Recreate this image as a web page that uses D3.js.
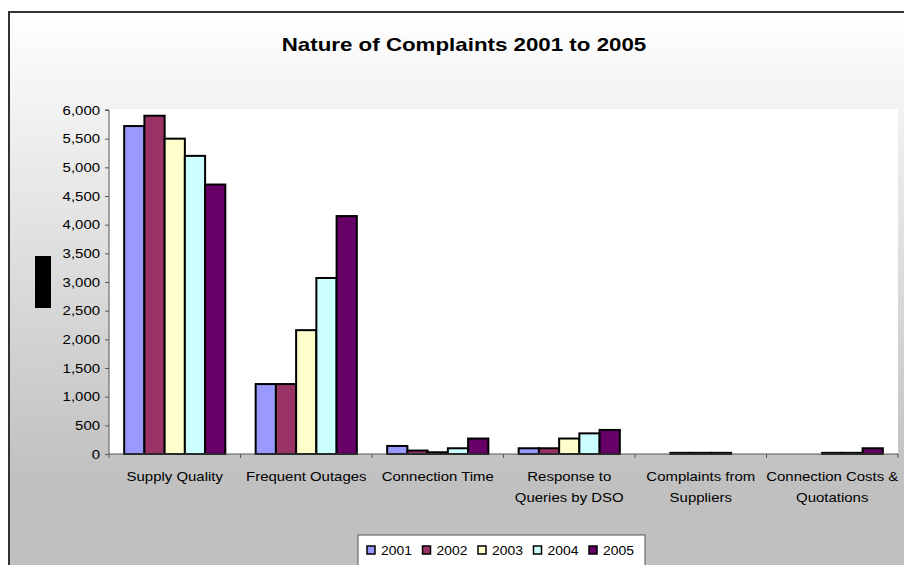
<!DOCTYPE html>
<html>
<head>
<meta charset="utf-8">
<script src="https://cdn.jsdelivr.net/npm/d3@7/dist/d3.min.js"></script>
<style>
  html, body { margin: 0; padding: 0; background: #ffffff; }
  svg { display: block; font-family: "Liberation Sans", Arial, sans-serif; }
</style>
</head>
<body>
<svg id="chart" width="904" height="565"></svg>
<script>
// Complaint categories (x axis, two lines where the label wraps)
const categories = [
  "Supply Quality",
  "Frequent Outages",
  "Connection Time",
  "Response to Queries by DSO",
  "Complaints from Suppliers",
  "Connection Costs & Quotations"
];
const categoryLines = [
  ["Supply Quality"],
  ["Frequent Outages"],
  ["Connection Time"],
  ["Response to", "Queries by DSO"],
  ["Complaints from", "Suppliers"],
  ["Connection Costs &", "Quotations"]
];

// Years (series)
const years = ["2001", "2002", "2003", "2004", "2005"];
const yearColors = ["#9999ff", "#993366", "#ffffcc", "#ccffff", "#660066"];

// Number of complaints per category, one array per year
const values2001 = [5720, 1220, 140, 100, 0, 0];
const values2002 = [5900, 1220, 60, 100, 20, 0];
const values2003 = [5500, 2160, 30, 270, 20, 20];
const values2004 = [5200, 3070, 100, 360, 20, 20];
const values2005 = [4700, 4150, 270, 420, 0, 100];
const seriesValues = [values2001, values2002, values2003, values2004, values2005];

// Y axis ticks
const yTicks = [0, 500, 1000, 1500, 2000, 2500, 3000, 3500, 4000, 4500, 5000, 5500, 6000];

// Text in this chart is drawn slightly wide
const wideLabel = 1.15;
const wideTitle = 1.24;
const wideLegend = 1.07;

const svg = d3.select("#chart");

// Chart background: white to grey gradient
const defs = svg.append("defs");
const grad = defs.append("linearGradient")
  .attr("id", "bg")
  .attr("gradientUnits", "userSpaceOnUse")
  .attr("x1", 0).attr("y1", 12).attr("x2", 0).attr("y2", 480);
grad.append("stop").attr("offset", "0%").attr("stop-color", "#ffffff");
grad.append("stop").attr("offset", "100%").attr("stop-color", "#c0c0c0");

svg.append("rect")
  .attr("x", 9).attr("y", 12).attr("width", 904).attr("height", 560)
  .attr("fill", "url(#bg)")
  .attr("stroke", "#333333").attr("stroke-width", 2);

const plot = { left: 109, right: 898, top: 110, bottom: 454 };

// Plot area
svg.append("rect")
  .attr("x", plot.left).attr("y", plot.top - 1)
  .attr("width", plot.right - plot.left).attr("height", plot.bottom - plot.top + 1)
  .attr("fill", "#ffffff");

const x0 = d3.scaleBand().domain(categories).range([plot.left, plot.right]).padding(0);
const x1 = d3.scaleBand().domain(years).range([0, x0.bandwidth()])
  .paddingInner(0).paddingOuter(0.75);
const y = d3.scaleLinear().domain([0, 6000]).range([plot.bottom, plot.top]);

// Bars
const groups = svg.append("g").selectAll("g")
  .data(categories)
  .join("g")
  .attr("transform", d => `translate(${x0(d)},0)`);

groups.selectAll("rect")
  .data((c, ci) => years.map((yr, si) => ({ yr, si, v: seriesValues[si][ci] })).filter(d => d.v > 0))
  .join("rect")
  .attr("x", d => x1(d.yr))
  .attr("y", d => y(d.v))
  .attr("width", x1.bandwidth())
  .attr("height", d => y(0) - y(d.v))
  .attr("fill", d => yearColors[d.si])
  .attr("stroke", "#000000")
  .attr("stroke-width", 2);

// Y axis
const yAxis = d3.axisLeft(y).tickValues(yTicks).tickFormat(d3.format(",")).tickSize(4).tickPadding(5);
const yg = svg.append("g").attr("transform", `translate(${plot.left},0)`).call(yAxis);
yg.select(".domain").attr("stroke", "#555555").attr("d", `M-4,${plot.top}H0V${plot.bottom}`);
yg.selectAll(".tick line").attr("stroke", "#555555");
yg.selectAll(".tick text")
  .attr("font-size", 13).attr("fill", "#000000")
  .attr("font-family", "'Liberation Sans', Arial, sans-serif")
  .attr("x", -9 / wideLabel)
  .attr("transform", `scale(${wideLabel},1)`);

// X axis line and category dividers
const xg = svg.append("g");
xg.append("line")
  .attr("x1", plot.left).attr("x2", plot.right)
  .attr("y1", plot.bottom).attr("y2", plot.bottom)
  .attr("stroke", "#555555").attr("stroke-width", 1);
const dividers = categories.map(c => x0(c)).concat([x0(categories[categories.length - 1]) + x0.bandwidth()]);
xg.selectAll("line.div")
  .data(dividers)
  .join("line")
  .attr("class", "div")
  .attr("x1", d => d).attr("x2", d => d)
  .attr("y1", plot.bottom).attr("y2", plot.bottom + 4)
  .attr("stroke", "#555555");

// Category labels
const labels = svg.append("g").selectAll("text")
  .data(categories)
  .join("text")
  .attr("transform", d => `translate(${x0(d) + x0.bandwidth() / 2},481) scale(${wideLabel},1)`)
  .attr("text-anchor", "middle")
  .attr("font-size", 13)
  .attr("fill", "#000000");
labels.each(function(d, i) {
  const t = d3.select(this);
  categoryLines[i].forEach((line, li) => {
    t.append("tspan")
      .attr("x", 0)
      .attr("dy", li === 0 ? 0 : 21)
      .text(line);
  });
});

// Title
svg.append("text")
  .attr("transform", `translate(464,51) scale(${wideTitle},1)`)
  .attr("text-anchor", "middle")
  .attr("font-size", 18).attr("font-weight", "bold")
  .attr("fill", "#000000")
  .text("Nature of Complaints 2001 to 2005");

// Vertical axis title block
svg.append("rect")
  .attr("x", 35).attr("y", 256).attr("width", 16).attr("height", 52)
  .attr("fill", "#000000");

// Legend
const legend = svg.append("g");
legend.append("rect")
  .attr("x", 358).attr("y", 535).attr("width", 287).attr("height", 40)
  .attr("fill", "#ffffff").attr("stroke", "#555555").attr("stroke-width", 1);
const items = legend.selectAll("g.item")
  .data(years)
  .join("g")
  .attr("class", "item")
  .attr("transform", (d, i) => `translate(${367 + i * 55.5},0)`);
items.append("rect")
  .attr("x", 0).attr("y", 546).attr("width", 8).attr("height", 8)
  .attr("fill", (d, i) => yearColors[i])
  .attr("stroke", "#000000").attr("stroke-width", 1.5);
items.append("text")
  .attr("transform", `translate(14,555) scale(${wideLegend},1)`)
  .attr("font-size", 13).attr("fill", "#000000")
  .text(d => d);
</script>
</body>
</html>
